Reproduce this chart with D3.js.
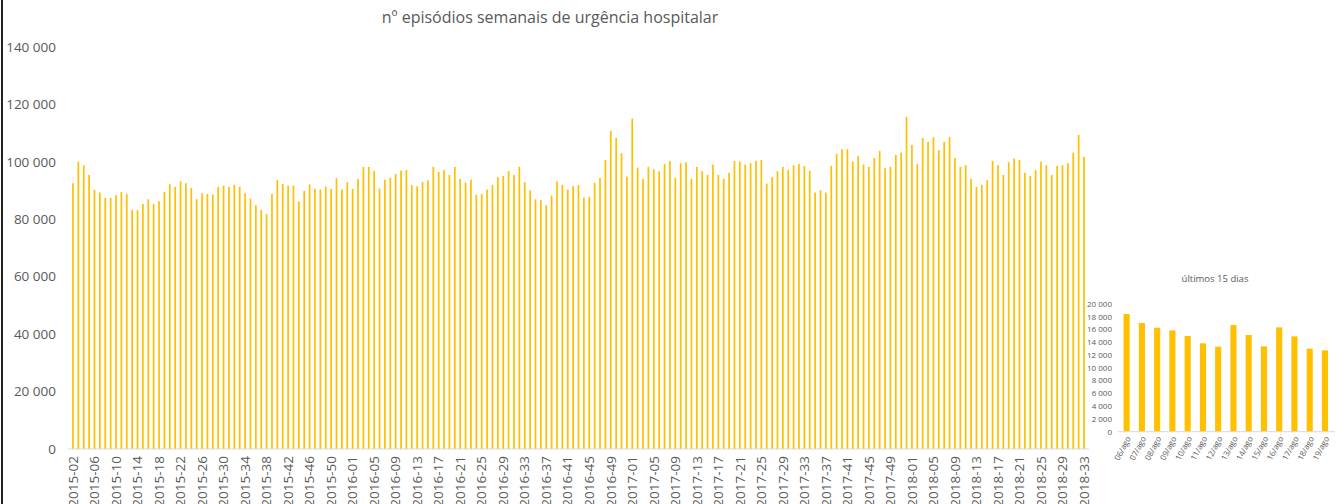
<!DOCTYPE html>
<html>
<head>
<meta charset="utf-8">
<script src="https://cdn.jsdelivr.net/npm/d3@7"></script>
<style>
  body { margin: 0; background: #fff; }
  svg { display: block; font-family: "Open Sans", sans-serif; }
</style>
</head>
<body>
<svg id="chart"></svg>
<script>
const width = 1344;
const height = 504;

// weekly series: year, first week, last week
const weekRanges = [[2015, 2, 53], [2016, 1, 52], [2017, 1, 52], [2018, 1, 33]];

const weeklyValues = [
    92570, 100100, 98830, 95460, 90240, 89300, 87450, 87450, 88380, 89540,
    88840, 83270, 83270, 85360, 86980, 85360, 86290, 89540, 92210, 91280,
    93260, 92570, 90930, 86980, 89070, 88840, 88610, 91280, 91740, 91280,
    91980, 91280, 89070, 87220, 84890, 83270, 81870, 88840, 93720, 92330,
    91740, 91740, 86170, 89890, 92210, 90580, 90350, 91400, 90580, 94300,
    90350, 92910, 90580, 94070, 98250, 98250, 96860, 90700, 93830, 94420,
    95810, 96970, 97200, 91980, 91510, 93020, 93600, 98250, 96510, 97200,
    95460, 98250, 94070, 92790, 93830, 88490, 88840, 90350, 91980, 94650,
    95110, 96740, 95460, 98250, 92910, 90120, 86980, 86640, 84890, 88260,
    93260, 91980, 90350, 91510, 91980, 87570, 87800, 92670, 94420, 100690,
    110790, 108350, 103010, 94880, 115090, 98020, 94070, 98250, 97430, 96740,
    99290, 100340, 94420, 99520, 99870, 94070, 98250, 96740, 95460, 99060,
    95460, 94070, 96160, 100340, 100100, 99060, 99520, 100340, 100690, 92440,
    94650, 96740, 98250, 97200, 98830, 99290, 98600, 96970, 89300, 90120,
    89300, 98600, 102780, 104400, 104400, 100100, 101960, 99060, 98250, 101380,
    103820, 97780, 98250, 102430, 103240, 115670, 105910, 99290, 108350, 106960,
    108580, 104050, 106960, 108700, 101380, 98250, 98830, 94070, 91280, 91980,
    93600, 100340, 98830, 95460, 99870, 101150, 100690, 96160, 95110, 97200,
    100100, 98830, 95460, 98600, 98830, 99520, 103240, 109400, 101730
];

const yTicks = [0, 20000, 40000, 60000, 80000, 100000, 120000, 140000];

const dayLabels = ['06/ago', '07/ago', '08/ago', '09/ago', '10/ago', '11/ago', '12/ago',
    '13/ago', '14/ago', '15/ago', '16/ago', '17/ago', '18/ago', '19/ago'];
const dayValues = [18430, 17020, 16290, 15870, 14990, 13840, 13310,
    16710, 15140, 13370, 16340, 14930, 13000, 12740];
const dayTicks = [0, 2000, 4000, 6000, 8000, 10000, 12000, 14000, 16000, 18000, 20000];

const title = 'nº episódios semanais de urgência hospitalar';
const insetTitle = 'últimos 15 dias';

const weeks = [];
weekRanges.forEach(([yr, a, b]) => {
    for (let w = a; w <= b; w++) weeks.push(`${yr}-${String(w).padStart(2, '0')}`);
});
const data = weeks.map((w, i) => ({week: w, value: weeklyValues[i]}));
const days = dayLabels.map((d, i) => ({day: d, value: dayValues[i]}));

const gold = '#FFC000';
const textGrey = '#595959';
const axisGrey = '#D9D9D9';

const fmt = d3.formatLocale({decimal: ',', thousands: ' ', grouping: [3], currency: ['', '']}).format(',');

const svg = d3.select('#chart')
    .attr('width', width)
    .attr('height', height);

// left frame line
svg.append('line')
    .attr('x1', 2).attr('x2', 2)
    .attr('y1', 0).attr('y2', height)
    .attr('stroke', '#222').attr('stroke-width', 2);

// ---- main weekly chart
const x = d3.scaleBand()
    .domain(weeks)
    .range([70.3, 1086.7])
    .paddingInner(0.68)
    .paddingOuter(0.34);
const y = d3.scaleLinear().domain([0, 140000]).range([449, 47]);

svg.append('text')
    .attr('x', 550).attr('y', 23)
    .attr('text-anchor', 'middle')
    .attr('fill', textGrey)
    .style('font-size', '16px')
    .text(title);

svg.append('g')
    .selectAll('text')
    .data(yTicks)
    .enter().append('text')
    .attr('x', 56)
    .attr('y', d => y(d))
    .attr('dy', '0.35em')
    .attr('text-anchor', 'end')
    .attr('fill', textGrey)
    .style('font-size', '13.5px')
    .text(d => fmt(d));

svg.append('g')
    .selectAll('rect')
    .data(data)
    .enter().append('rect')
    .attr('x', d => x(d.week))
    .attr('width', x.bandwidth())
    .attr('y', d => y(d.value))
    .attr('height', d => y(0) - y(d.value))
    .attr('fill', gold);

svg.append('line')
    .attr('x1', 68).attr('x2', 1089)
    .attr('y1', y(0)).attr('y2', y(0))
    .attr('stroke', axisGrey);

svg.append('g')
    .selectAll('text')
    .data(weeks.filter((w, i) => i % 4 === 0))
    .enter().append('text')
    .attr('transform', d => `translate(${x(d) + x.bandwidth() / 2}, 456) rotate(-90)`)
    .attr('dy', '0.35em')
    .attr('text-anchor', 'end')
    .attr('fill', textGrey)
    .style('font-size', '13.5px')
    .text(d => d);

// ---- inset: last days
const xi = d3.scaleBand()
    .domain(dayLabels)
    .range([1119, 1332.6])
    .paddingInner(0.6)
    .paddingOuter(0.3);
const yi = d3.scaleLinear().domain([0, 20000]).range([431.7, 304]);

svg.append('text')
    .attr('x', 1215).attr('y', 282)
    .attr('text-anchor', 'middle')
    .attr('fill', textGrey)
    .style('font-size', '9.5px')
    .text(insetTitle);

svg.append('g')
    .selectAll('text')
    .data(dayTicks)
    .enter().append('text')
    .attr('x', 1112)
    .attr('y', d => yi(d))
    .attr('dy', '0.35em')
    .attr('text-anchor', 'end')
    .attr('fill', textGrey)
    .style('font-size', '8px')
    .text(d => fmt(d));

svg.append('g')
    .selectAll('rect')
    .data(days)
    .enter().append('rect')
    .attr('x', d => xi(d.day))
    .attr('width', xi.bandwidth())
    .attr('y', d => yi(d.value))
    .attr('height', d => yi(0) - yi(d.value))
    .attr('fill', gold);

svg.append('line')
    .attr('x1', 1118).attr('x2', 1335)
    .attr('y1', yi(0)).attr('y2', yi(0))
    .attr('stroke', axisGrey);

svg.append('g')
    .selectAll('text')
    .data(dayLabels)
    .enter().append('text')
    .attr('transform', d => `translate(${xi(d) + xi.bandwidth() / 2 + 2}, 437) rotate(-62)`)
    .attr('dy', '0.35em')
    .attr('text-anchor', 'end')
    .attr('fill', textGrey)
    .style('font-size', '8px')
    .text(d => d);
</script>
</body>
</html>
